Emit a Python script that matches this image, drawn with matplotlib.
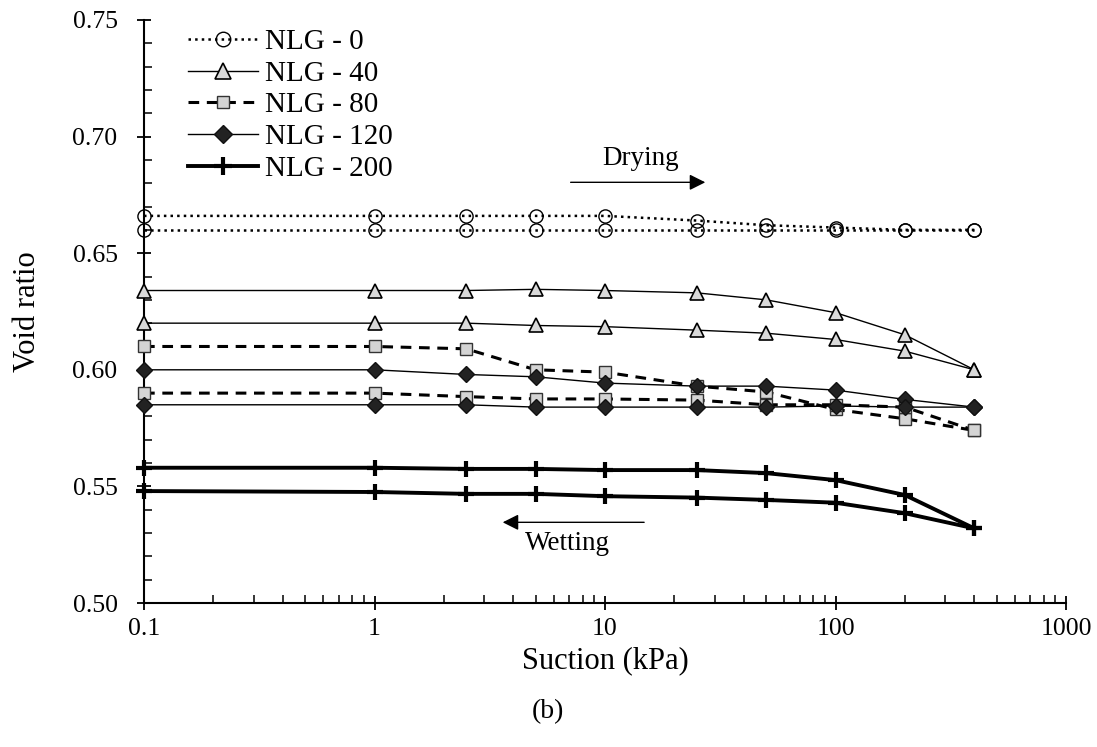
import numpy as np
import matplotlib
matplotlib.use("Agg")
import matplotlib.pyplot as plt
from matplotlib.ticker import MultipleLocator, FixedLocator, NullFormatter, LogLocator

plt.rcParams['font.family'] = ['Liberation Serif', 'DejaVu Serif']

# ── Data ────────────────────────────────────────────────────────────────
SUCTION = [0.1, 1, 2.5, 5, 10, 25, 50, 100, 200, 400]

NLG0_DRY = [0.666, 0.666, 0.666, 0.666, 0.666, 0.664, 0.662, 0.661, 0.660, 0.660]
NLG0_WET = [0.660, 0.660, 0.660, 0.660, 0.660, 0.660, 0.660, 0.660, 0.660, 0.660]

NLG40_DRY = [0.634, 0.634, 0.634, 0.6345, 0.634, 0.633, 0.630, 0.6245, 0.615, 0.600]
NLG40_WET = [0.620, 0.620, 0.620, 0.619, 0.6185, 0.617, 0.6157, 0.613, 0.608, 0.600]

NLG80_DRY = [0.610, 0.610, 0.609, 0.600, 0.599, 0.593, 0.5905, 0.583, 0.579, 0.574]
NLG80_WET = [0.590, 0.590, 0.5885, 0.5875, 0.5875, 0.587, 0.585, 0.585, 0.584, 0.574]

NLG120_DRY = [0.600, 0.600, 0.598, 0.597, 0.5943, 0.593, 0.593, 0.5913, 0.5873, 0.584]
NLG120_WET = [0.585, 0.585, 0.585, 0.584, 0.584, 0.584, 0.584, 0.5845, 0.584, 0.584]

NLG200_DRY = [0.558, 0.558, 0.5575, 0.5575, 0.557, 0.557, 0.5557, 0.5527, 0.5463, 0.532]
NLG200_WET = [0.548, 0.5476, 0.5468, 0.5468, 0.5458, 0.5452, 0.5442, 0.543, 0.5385, 0.532]

SERIES = [
    ("NLG - 0", NLG0_DRY, NLG0_WET,
     dict(color='black', ls=':', lw=1.8, marker='o', ms=9.5, mfc='none', mec='black', mew=1.0)),
    ("NLG - 40", NLG40_DRY, NLG40_WET,
     dict(color='black', ls='-', lw=1.0, marker='^', ms=10, mfc='#d9d9d9', mec='black', mew=1.2)),
    ("NLG - 80", NLG80_DRY, NLG80_WET,
     dict(color='black', ls=(0, (3.5, 2.5)), lw=2.2, marker='s', ms=8.5, mfc='#d4d4d4', mec='#333333', mew=1.0)),
    ("NLG - 120", NLG120_DRY, NLG120_WET,
     dict(color='black', ls='-', lw=1.0, marker='D', ms=8, mfc='#222222', mec='#111111', mew=1.0)),
    ("NLG - 200", NLG200_DRY, NLG200_WET,
     dict(color='black', ls='-', lw=2.8, marker='+', ms=12, mec='black', mew=3.0)),
]

fig = plt.figure(figsize=(10.97, 7.47), dpi=100)
ax = fig.add_axes([144 / 1097, 1 - 603 / 747, (1066 - 144) / 1097, (603 - 20) / 747])

for label, dry, wet, style in SERIES:
    ax.plot(SUCTION, dry, label=label, clip_on=False, zorder=3, **style)
    ax.plot(SUCTION, wet, clip_on=False, zorder=3, **style)

ax.set_xscale('log')
ax.set_xlim(0.1, 1000)
ax.set_ylim(0.50, 0.75)
ax.yaxis.set_major_locator(MultipleLocator(0.05))
ax.yaxis.set_minor_locator(MultipleLocator(0.01))
ax.yaxis.set_major_formatter(matplotlib.ticker.FormatStrFormatter('%.2f'))
ax.xaxis.set_major_locator(FixedLocator([0.1, 1, 10, 100, 1000]))
ax.xaxis.set_major_formatter(matplotlib.ticker.FuncFormatter(lambda v, p: f"{v:g}"))
ax.xaxis.set_minor_locator(LogLocator(base=10, subs=np.arange(2, 10)))
ax.xaxis.set_minor_formatter(NullFormatter())

for side in ('top', 'right'):
    ax.spines[side].set_visible(False)
for side in ('left', 'bottom'):
    ax.spines[side].set_linewidth(1.5)

ax.tick_params(which='major', direction='inout', length=10, width=1.3, labelsize=18.5)
ax.tick_params(axis='x', which='major', pad=6)
ax.tick_params(axis='y', which='major', pad=14)
ax.tick_params(which='minor', direction='in', length=6, width=1.1)

ax.set_xlabel('Suction (kPa)', fontsize=22, labelpad=4)
ax.set_ylabel('Void ratio', fontsize=22, labelpad=22)

# Drying / wetting arrows
ax.annotate('', xy=(28, 0.6804), xytext=(6.9, 0.6804),
            arrowprops=dict(arrowstyle='-|>', color='black', lw=1.0, mutation_scale=24))
ax.text(14.2, 0.6907, 'Drying', fontsize=19.5, ha='center', va='center')
ax.annotate('', xy=(3.5, 0.5346), xytext=(15.2, 0.5346),
            arrowprops=dict(arrowstyle='-|>', color='black', lw=1.0, mutation_scale=24))
ax.text(6.9, 0.5256, 'Wetting', fontsize=19.5, ha='center', va='center')

leg = ax.legend(loc='upper left', bbox_to_anchor=(0.0477, 0.985), frameon=False, fontsize=21,
                handlelength=2.4, handletextpad=0.25, labelspacing=0.18,
                borderpad=0, borderaxespad=0, markerscale=1.1)

fig.text(548 / 1097, 1 - 712 / 747, '(b)', fontsize=20, ha='center', va='center')

fig.savefig('out.png', dpi=100)
